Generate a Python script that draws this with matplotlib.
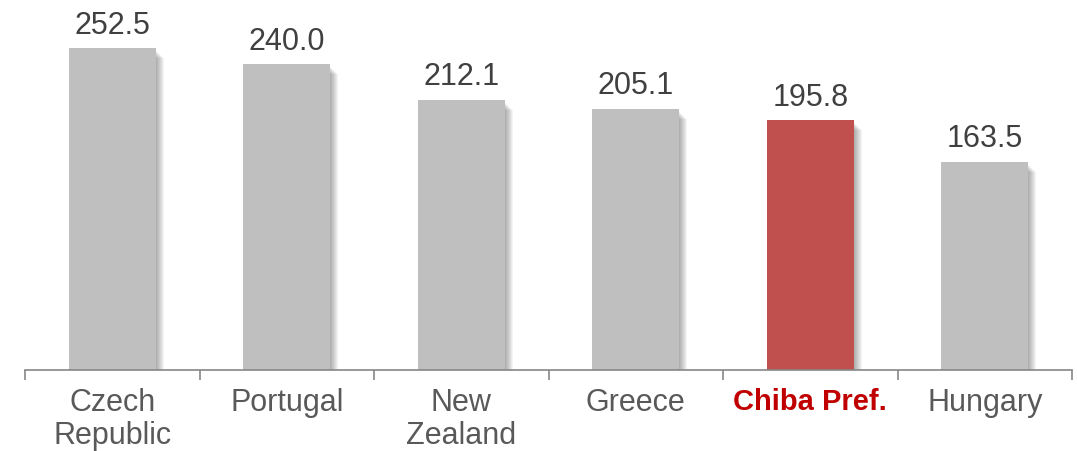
import matplotlib.pyplot as plt
import numpy as np

categories = ["Czech\nRepublic", "Portugal", "New\nZealand", "Greece", "Chiba Pref.", "Hungary"]
values = [252.5, 240.0, 212.1, 205.1, 195.8, 163.5]
highlight = "Chiba Pref."

plt.rcParams['font.family'] = ['Liberation Sans', 'DejaVu Sans']

fig = plt.figure(figsize=(10.77, 4.52), dpi=100)
ax = fig.add_axes([25 / 1077, 81 / 452, 1047 / 1077, 371 / 452])

x = np.arange(len(categories))
width = 0.5
bar_colors = ["#C0504D" if c == highlight else "#BFBFBF" for c in categories]

ax.set_xlim(-0.5, len(categories) - 0.5)
ax.set_ylim(0, 291)

# soft drop shadow to the right of each bar, built from faint stacked layers
px_x = 1.0 / 174.5
px_y = 291 / 371
for k in range(1, 9):
    ax.bar(x + k * px_x, np.array(values) - (k + 2) * px_y, width=width,
           color="black", alpha=0.045, linewidth=0, zorder=1)

ax.bar(x, values, width=width, color=bar_colors, linewidth=0, zorder=2)

for xi, v in zip(x, values):
    ax.annotate(f"{v:.1f}", (xi, v), xytext=(0, 6), textcoords="offset points",
                ha="center", va="bottom", fontsize=22, color="#404040")

for side in ["top", "right", "left"]:
    ax.spines[side].set_visible(False)
ax.spines["bottom"].set_color("#868686")
ax.spines["bottom"].set_linewidth(1.2)
ax.set_yticks([])

# boundaries between categories as outward ticks, labels centred on bars
ax.set_xticks(np.arange(-0.5, len(categories), 1.0))
ax.set_xticklabels([])
ax.tick_params(axis="x", which="major", direction="out", length=7, width=1.2, color="#868686")
ax.set_xticks(x, minor=True)
ax.set_xticklabels(categories, minor=True, fontsize=22, color="#595959", linespacing=1.15)
ax.tick_params(axis="x", which="minor", length=0, pad=12)
for lbl in ax.get_xticklabels(minor=True):
    if lbl.get_text() == highlight:
        lbl.set_color("#C00000")
        lbl.set_fontweight("bold")
        lbl.set_fontsize(21)

fig.savefig("out.png", dpi=100)
